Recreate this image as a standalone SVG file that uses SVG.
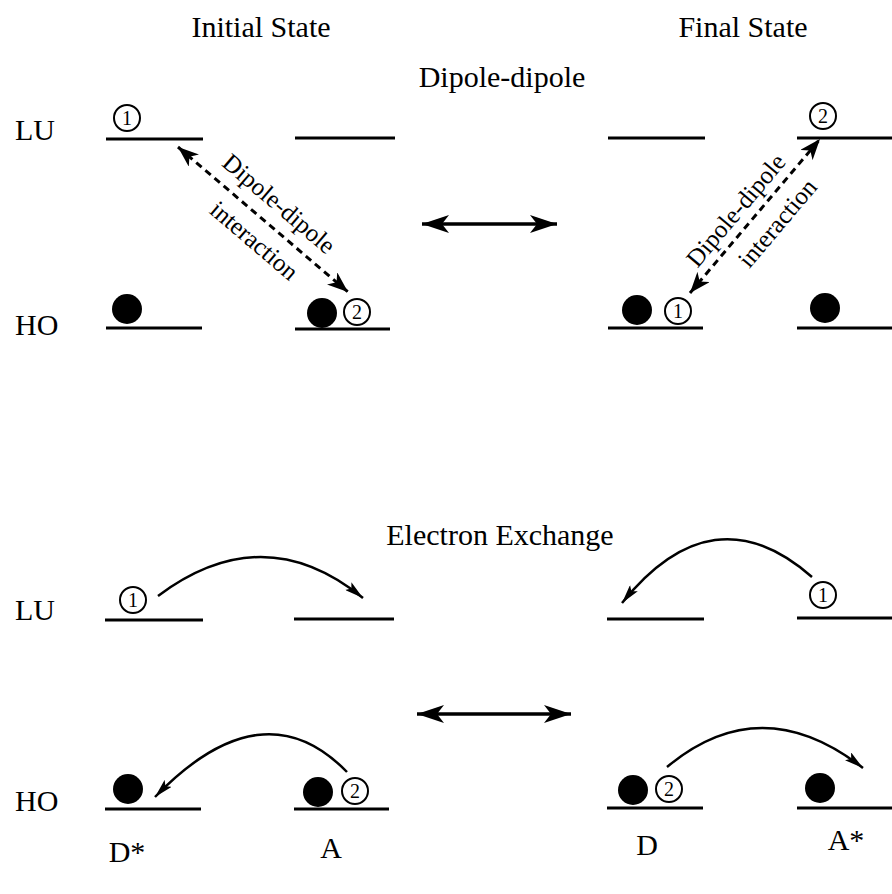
<svg xmlns="http://www.w3.org/2000/svg" width="892" height="894" viewBox="0 0 892 894">
<style>
text{font-family:"Liberation Serif","Times New Roman",serif;fill:#000}
.t{font-size:30px}
.r{font-size:25px}
.n{font-size:20px;text-anchor:middle}
.lvl{stroke:#000;stroke-width:3;fill:none}
.hole{fill:#fff;stroke:#000;stroke-width:2}
.el{fill:#000}
.dash{stroke:#000;stroke-width:3;fill:none;stroke-dasharray:7 5}
.dbl{stroke:#000;stroke-width:3.5;fill:none}
.arc{stroke:#000;stroke-width:2.5;fill:none}
</style>
<defs>
<marker id="hd" markerUnits="userSpaceOnUse" markerWidth="22" markerHeight="16" refX="21" refY="8" orient="auto-start-reverse" viewBox="0 0 22 16">
<path d="M0,0 L21,8 L0,16 L6,8 z" fill="#000"/>
</marker>
<marker id="hb" markerUnits="userSpaceOnUse" markerWidth="28" markerHeight="18" refX="27" refY="9" orient="auto-start-reverse" viewBox="0 0 28 18">
<path d="M0,0 L27,9 L0,18 L7,9 z" fill="#000"/>
</marker>
<marker id="ha" markerUnits="userSpaceOnUse" markerWidth="20" markerHeight="10" refX="19" refY="5" orient="auto" viewBox="0 0 20 10">
<path d="M0,0 L19,5 L0,10 L4,5 z" fill="#000"/>
</marker>
</defs>

<g id="titles">
<text class="t" x="261" y="37" text-anchor="middle">Initial State</text>
<text class="t" x="743" y="37" text-anchor="middle">Final State</text>
<text class="t" x="502" y="87" text-anchor="middle">Dipole-dipole</text>
<text class="t" x="500" y="545" text-anchor="middle">Electron Exchange</text>
<text class="t" x="15" y="140">LU</text>
<text class="t" x="15" y="335">HO</text>
<text class="t" x="15" y="620">LU</text>
<text class="t" x="15" y="811">HO</text>
<text class="t" x="127" y="862" text-anchor="middle">D*</text>
<text class="t" x="331" y="858" text-anchor="middle">A</text>
<text class="t" x="647" y="855" text-anchor="middle">D</text>
<text class="t" x="846" y="850" text-anchor="middle">A*</text>
</g>

<g id="dd-initial-donor">
<line class="lvl" x1="106" y1="139" x2="203" y2="139"/>
<circle class="hole" cx="127" cy="118" r="13"/><text class="n" x="127" y="125">1</text>
<line class="lvl" x1="106" y1="328" x2="202" y2="328"/>
<circle class="el" cx="127" cy="309" r="15"/>
</g>
<g id="dd-initial-acceptor">
<line class="lvl" x1="295" y1="138" x2="395" y2="138"/>
<line class="lvl" x1="295" y1="329" x2="390" y2="329"/>
<circle class="el" cx="322" cy="313" r="15"/>
<circle class="hole" cx="357" cy="312" r="13"/><text class="n" x="357" y="319">2</text>
</g>
<g id="dd-final-donor">
<line class="lvl" x1="608" y1="138" x2="705" y2="138"/>
<line class="lvl" x1="608" y1="328" x2="703" y2="328"/>
<circle class="el" cx="637" cy="310" r="15"/>
<circle class="hole" cx="678" cy="311" r="13"/><text class="n" x="678" y="318">1</text>
</g>
<g id="dd-final-acceptor">
<line class="lvl" x1="797" y1="138" x2="892" y2="138"/>
<circle class="hole" cx="823" cy="116" r="13"/><text class="n" x="823" y="123">2</text>
<line class="lvl" x1="797" y1="328" x2="892" y2="328"/>
<circle class="el" cx="825" cy="308" r="15"/>
</g>

<g id="ex-initial-donor">
<line class="lvl" x1="105" y1="620" x2="203" y2="620"/>
<circle class="hole" cx="133" cy="600" r="13"/><text class="n" x="133" y="607">1</text>
<line class="lvl" x1="105" y1="809" x2="201" y2="809"/>
<circle class="el" cx="128" cy="789" r="15"/>
</g>
<g id="ex-initial-acceptor">
<line class="lvl" x1="294" y1="619" x2="394" y2="619"/>
<line class="lvl" x1="294" y1="809" x2="389" y2="809"/>
<circle class="el" cx="318" cy="792" r="15"/>
<circle class="hole" cx="355" cy="791" r="13"/><text class="n" x="355" y="798">2</text>
</g>
<g id="ex-final-donor">
<line class="lvl" x1="607" y1="619" x2="704" y2="619"/>
<line class="lvl" x1="607" y1="808" x2="703" y2="808"/>
<circle class="el" cx="633" cy="790" r="15"/>
<circle class="hole" cx="669" cy="789" r="13"/><text class="n" x="669" y="796">2</text>
</g>
<g id="ex-final-acceptor">
<line class="lvl" x1="797" y1="618" x2="892" y2="618"/>
<circle class="hole" cx="823" cy="595" r="13"/><text class="n" x="823" y="602">1</text>
<line class="lvl" x1="797" y1="808" x2="892" y2="808"/>
<circle class="el" cx="820" cy="788" r="15"/>
</g>

<g id="connectors">
<path class="dash" d="M178,147 L348,292" marker-start="url(#hd)" marker-end="url(#hd)"/>
<path class="dash" d="M690,293 L820,139" marker-start="url(#hd)" marker-end="url(#hd)"/>
<path class="dbl" d="M422,224 L557,224" marker-start="url(#hb)" marker-end="url(#hb)"/>
<path class="dbl" d="M417,714 L571,714" marker-start="url(#hb)" marker-end="url(#hb)"/>
<path class="arc" d="M158,596 Q263.5,517 363,598" marker-end="url(#ha)"/>
<path class="arc" d="M812,577 Q713,490 622,603" marker-end="url(#ha)"/>
<path class="arc" d="M347,772 Q263,685.5 155,797" marker-end="url(#ha)"/>
<path class="arc" d="M667,767 Q761,688.5 863,768" marker-end="url(#ha)"/>
<g transform="translate(263,219.5) rotate(40.5)">
<text class="r" x="2" y="-14" text-anchor="middle">Dipole-dipole</text>
<text class="r" x="7" y="30" text-anchor="middle">interaction</text>
</g>
<g transform="translate(755,216) rotate(-49.8)">
<text class="r" x="-8" y="-10" text-anchor="middle">Dipole-dipole</text>
<text class="r" x="9" y="30" text-anchor="middle">interaction</text>
</g>
</g>
</svg>
